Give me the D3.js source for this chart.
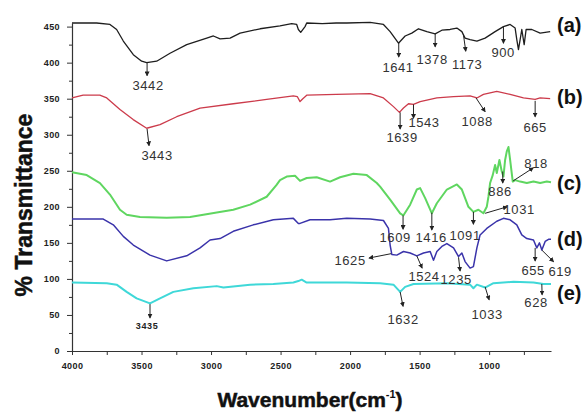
<!DOCTYPE html>
<html>
<head>
<meta charset="utf-8">
<script src="https://cdn.jsdelivr.net/npm/d3@7"></script>
<style>
  body { margin: 0; background: #fff; }
  .tick text { font-family: "Liberation Sans", Arial, sans-serif; font-weight: bold; font-size: 9px; fill: #222; letter-spacing: 0.4px; }
  .note { font-family: "Liberation Sans", Arial, sans-serif; font-size: 13px; fill: #333; letter-spacing: 0.6px; }
</style>
</head>
<body>
<div id="chart"></div>
<script>
// spectra as [wavenumber, %T] pairs
const seriesA = [[4000,455],[3823,455],[3727,453],[3679,446],[3631,430],[3559,411],[3499,402],[3463,400],[3391,402],[3295,413],[3175,425],[3031,434],[2983,437],[2935,433],[2863,434],[2791,441],[2647,447],[2504,451],[2420,454],[2384,453],[2372,446],[2355,442],[2324,450],[2312,455],[2200,454],[2100,455],[2024,455],[1856,456],[1760,453],[1712,443],[1652,427],[1604,437],[1556,441],[1508,447],[1448,443],[1388,440],[1340,445],[1281,446],[1232,448],[1196,443],[1173,434],[1137,432],[1088,430],[1029,434],[957,443],[897,450],[849,453],[813,448],[801,432],[789,418],[777,432],[765,446],[748,425],[734,446],[693,446],[633,441],[561,443]];
const seriesB = [[4000,351],[3920,355],[3800,355],[3750,351],[3655,335],[3560,321],[3463,309],[3367,314],[3247,325],[3079,337],[2840,343],[2600,349],[2408,354],[2380,353],[2360,346],[2340,350],[2310,355],[2100,356],[1856,357],[1760,351],[1688,339],[1645,331],[1616,337],[1580,343],[1544,342],[1496,346],[1376,351],[1256,353],[1137,354],[1088,351],[1041,356],[945,360],[849,356],[753,351],[669,349],[633,351],[561,350]];
const seriesC = [[4000,248],[3894,244],[3799,233],[3727,217],[3655,196],[3607,189],[3511,186],[3319,185],[3151,186],[2959,192],[2840,196],[2719,203],[2600,214],[2530,230],[2504,237],[2456,242],[2396,243],[2360,236],[2312,240],[2240,241],[2144,235],[2072,241],[1976,246],[1880,244],[1808,233],[1784,228],[1712,210],[1640,191],[1617,188],[1568,203],[1520,224],[1496,226],[1460,212],[1412,191],[1376,205],[1304,224],[1232,231],[1196,224],[1149,200],[1113,193],[1077,196],[1041,191],[1017,200],[1005,214],[993,233],[974,244],[957,258],[945,247],[926,265],[909,249],[897,242],[885,265],[873,277],[861,283],[849,265],[830,235],[813,237],[777,235],[729,233],[681,235],[633,233],[585,235],[555,234]];
const seriesD = [[4000,183],[3775,183],[3703,175],[3631,159],[3559,147],[3439,133],[3319,125],[3175,132],[3079,143],[3007,154],[2935,156],[2840,166],[2696,175],[2552,182],[2408,184],[2372,177],[2360,177],[2288,182],[2144,182],[2024,184],[1856,183],[1760,181],[1724,170],[1712,147],[1700,134],[1664,133],[1616,138],[1568,136],[1520,132],[1472,136],[1424,138],[1400,126],[1376,138],[1340,145],[1304,149],[1256,143],[1220,131],[1196,136],[1173,124],[1137,115],[1113,117],[1088,143],[1065,161],[1017,170],[945,180],[897,184],[849,182],[801,175],[765,161],[729,156],[681,154],[657,143],[638,150],[621,140],[597,152],[573,155],[555,155]];
const seriesE = [[4000,95],[3750,94],[3679,92],[3607,82],[3535,73],[3439,66],[3367,73],[3271,82],[3127,87],[2959,90],[2911,88],[2719,92],[2552,93],[2408,95],[2372,97],[2348,99],[2312,95],[2024,95],[1784,94],[1688,92],[1640,82],[1604,89],[1544,93],[1304,94],[1137,92],[1113,87],[1088,92],[1029,88],[969,94],[825,96],[681,95],[609,93],[555,93]];

const seriesNames = ["(a)", "(b)", "(c)", "(d)", "(e)"];
const nameLevels = [452, 353, 233, 155, 81];   // %T level where each letter sits
const xTicks = d3.range(4000, 700, -250);
const yTicks = d3.range(0, 451, 25);

// peak notes: label, text position [w,T], arrow from [w,T] to [w,T]
const notesA = [["3442",[3453,369],[3460,400],[3460,382]],["1641",[1655,393],[1650,428],[1650,408]],["1378",[1410,404],[1388,440],[1388,422]],["1173",[1158,397],[1185,439],[1168,416]],["900",[899,414],[897,450],[897,427]]];
const notesB = [["3443",[3388,272],[3460,308],[3446,285]],["1639",[1626,296],[1640,331],[1640,308]],["1543",[1468,317],[1544,342],[1544,323]],["1088",[1086,318],[1094,351],[1029,332]],["665",[669,310],[669,347],[669,325]]];
const notesC = [["1609",[1676,158],[1619,188],[1619,169]],["1416",[1417,158],[1412,192],[1412,168]],["1091",[1173,161],[1113,193],[1113,176]],["1031",[784,197],[1029,191],[871,200]],["886",[921,221],[902,249],[902,233]],["818",[662,260],[827,236],[683,254]]];
const notesD = [["1625",[2000,126],[1705,135],[1863,129]],["1524",[1468,103],[1520,132],[1482,115]],["1235",[1237,100],[1220,130],[1209,111]],["655",[683,112],[669,143],[669,125]],["619",[489,111],[621,140],[537,124]]];
const notesE = [["3435",[3460,35],[3439,65],[3439,46]],["1632",[1619,44],[1640,82],[1619,62]],["1033",[1014,51],[1029,89],[1000,71]],["628",[662,67],[621,93],[619,78]]];

const W = 587, H = 412;
const colors = ["#1e1e1e", "#cc3b4b", "#5fd660", "#3a33aa", "#3fd8d8"];
const widths = [1.3, 1.3, 2, 1.5, 2];

const svg = d3.select("#chart").append("svg")
    .attr("width", W).attr("height", H);

const x = d3.scaleLinear().domain([4000, 555]).range([72, 551]);
const y = d3.scaleLinear().domain([0, 455]).range([351, 23]);

// arrow head
svg.append("defs").append("marker")
    .attr("id", "arr")
    .attr("viewBox", "0 0 6 6")
    .attr("refX", 5).attr("refY", 3)
    .attr("markerWidth", 5).attr("markerHeight", 5)
    .attr("markerUnits", "userSpaceOnUse")
    .attr("orient", "auto")
    .append("path").attr("d", "M0,0 L6,3 L0,6 z").attr("fill", "#222");

// x axis
let xa = svg.append("g")
    .attr("transform", "translate(0," + y(0) + ")")
    .call(d3.axisBottom(x).tickValues(xTicks).tickSize(4).tickSizeOuter(0).tickPadding(8)
        .tickFormat(d => (d % 500 == 0 ? d : "")));
xa.select(".domain").attr("stroke", "#333").attr("stroke-width", 1.2);
xa.selectAll(".tick line").attr("stroke", "#333");

// y axis
let ya = svg.append("g")
    .attr("transform", "translate(" + x(4000) + ",0)")
    .call(d3.axisLeft(y).tickValues(yTicks).tickSize(5).tickSizeOuter(0).tickPadding(7)
        .tickFormat(d => (d % 50 == 0 ? d : "")));
ya.select(".domain").attr("stroke", "#333").attr("stroke-width", 1.2);
ya.selectAll(".tick line").attr("stroke", "#333")
    .attr("x2", d => (d % 50 == 0 ? -5 : -3));

// spectra
const line = d3.line().x(d => x(d[0])).y(d => y(d[1]));
[seriesA, seriesB, seriesC, seriesD, seriesE].forEach(function (s, i) {
    svg.append("path")
        .datum(s)
        .attr("d", line)
        .attr("fill", "none")
        .attr("stroke", colors[i])
        .attr("stroke-width", widths[i])
        .attr("stroke-linejoin", "round");
});

// peak notes
[notesA, notesB, notesC, notesD, notesE].forEach(function (notes) {
    notes.forEach(function (n) {
        svg.append("line")
            .attr("x1", x(n[2][0])).attr("y1", y(n[2][1]))
            .attr("x2", x(n[3][0])).attr("y2", y(n[3][1]))
            .attr("stroke", "#222").attr("stroke-width", 1)
            .attr("marker-end", "url(#arr)");
        let t = svg.append("text")
            .attr("class", "note")
            .attr("x", x(n[1][0])).attr("y", y(n[1][1]))
            .attr("dy", "0.36em")
            .attr("text-anchor", "middle")
            .text(n[0]);
        if (n[0] == "3435") {
            t.style("font-size", "9px").style("font-weight", "bold").style("fill", "#222");
        }
    });
});

// series letters on the right
seriesNames.forEach(function (nm, i) {
    svg.append("text")
        .attr("x", 557).attr("y", y(nameLevels[i]))
        .attr("dy", "0.35em")
        .style("font-family", "Liberation Sans, Arial, sans-serif")
        .style("font-weight", "bold").style("font-size", "20px")
        .style("fill", "#111")
        .text(nm);
});

// axis titles
svg.append("text")
    .attr("transform", "translate(32,205) rotate(-90)")
    .attr("text-anchor", "middle")
    .style("font-family", "Liberation Sans, Arial, sans-serif")
    .style("font-weight", "bold").style("font-size", "23px")
    .style("fill", "#111").style("stroke", "#111").style("stroke-width", 0.5)
    .text("% Transmittance");

let xt = svg.append("text")
    .attr("x", 310).attr("y", 407)
    .attr("text-anchor", "middle")
    .style("font-family", "Liberation Sans, Arial, sans-serif")
    .style("font-weight", "bold").style("font-size", "21px")
    .style("fill", "#111").style("stroke", "#111").style("stroke-width", 0.5);
xt.append("tspan").text("Wavenumber(cm");
xt.append("tspan").attr("dy", -9).style("font-size", "11px").style("stroke-width", 0).text("-1");
xt.append("tspan").attr("dy", 9).text(")");
</script>
</body>
</html>
